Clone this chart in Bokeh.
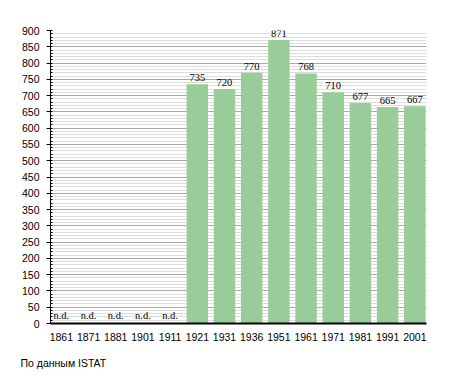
from bokeh.plotting import figure
from bokeh.models import Range1d, SingleIntervalTicker, Title, ColumnDataSource, LabelSet
from bokeh.core.properties import value
from bokeh.embed import file_html
from bokeh.resources import INLINE

years = ["1861", "1871", "1881", "1901", "1911", "1921", "1931", "1936",
         "1951", "1961", "1971", "1981", "1991", "2001"]
population = [None, None, None, None, None, 735, 720, 770, 871, 768, 710, 677, 665, 667]
y_ticks = list(range(0, 901, 50))
source_note = "По данным  ISTAT"
nd_label = "n.d."

FONT = "Liberation Sans"

idx = list(range(len(years)))
bar_x = [i for i, v in zip(idx, population) if v is not None]
bar_y = [v for v in population if v is not None]
nd_x = [i for i, v in zip(idx, population) if v is None]

p = figure(width=455, height=373, frame_width=376, frame_height=293,
           output_backend="svg", toolbar_location=None,
           x_range=Range1d(-0.4, len(years) - 1 + 0.43), y_range=Range1d(0, 900),
           min_border_left=50, min_border_right=29, min_border_top=30, min_border_bottom=10)
p.outline_line_color = None
p.background_fill_color = "white"
p.border_fill_color = "white"

src = ColumnDataSource(dict(x=bar_x, y=bar_y, t=[str(v) for v in bar_y]))
p.vbar(x="x", top="y", width=0.79, bottom=0, source=src,
       fill_color="#99cc99", line_color=None)
p.add_layout(LabelSet(x="x", y="y", text="t", source=src, text_align="center",
                      text_baseline="bottom", y_offset=3, text_font=FONT,
                      text_font_size="10.5px", text_color="#000000"))
nd_src = ColumnDataSource(dict(x=nd_x, y=[0] * len(nd_x), t=[nd_label] * len(nd_x)))
p.add_layout(LabelSet(x="x", y="y", text="t", source=nd_src, text_align="center",
                      text_baseline="bottom", y_offset=3, text_font=FONT,
                      text_font_size="10.5px", text_color="#000000"))

# axes
p.xaxis.ticker = idx
p.xaxis.major_label_overrides = {i: y for i, y in zip(idx, years)}
p.xaxis.major_tick_line_color = None
p.xaxis.minor_tick_line_color = None
p.xaxis.axis_line_color = "black"
p.xaxis.axis_line_width = 2
p.xaxis.major_label_standoff = 3
p.xaxis.major_label_text_font = FONT
p.xaxis.major_label_text_font_size = "10.5px"
p.xaxis.major_label_text_color = "#000000"

p.yaxis.ticker = SingleIntervalTicker(interval=50, num_minor_ticks=5)
p.yaxis.axis_line_color = "black"
p.yaxis.major_tick_out = 4
p.yaxis.major_tick_in = 0
p.yaxis.minor_tick_in = 2
p.yaxis.minor_tick_out = 0
p.yaxis.major_tick_line_color = "black"
p.yaxis.minor_tick_line_color = "black"
p.yaxis.major_label_standoff = 7
p.yaxis.major_label_text_font = FONT
p.yaxis.major_label_text_font_size = "10.5px"
p.yaxis.major_label_text_color = "#000000"

p.xgrid.grid_line_color = None
p.ygrid.ticker = SingleIntervalTicker(interval=50, num_minor_ticks=5)
p.ygrid.grid_line_color = "#aaaaaa"
p.ygrid.minor_grid_line_color = "#dddddd"

p.add_layout(Title(text=source_note, align="left", offset=-30, text_font=FONT,
                   text_font_size="10.5px", text_font_style="normal",
                   text_color="#000000", standoff=22), "below")

open("out.html", "w").write(file_html(p, INLINE))
